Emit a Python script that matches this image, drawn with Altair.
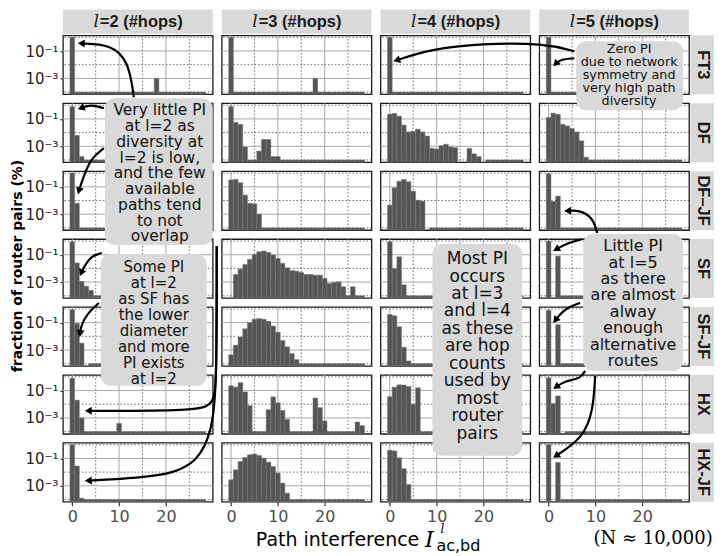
import math
import altair as alt
import pandas as pd

# ---------------------------------------------------------------- data
S = -4.0   # log10 level of the thin floor strip shown for (near-)empty bins
N = None   # bin without any bar

NETWORKS = ["FT3", "DF", "DF–JF", "SF", "SF-JF", "HX", "HX-JF"]
HOPS = [2, 3, 4, 5]
PI_BINS = list(range(29))          # path interference values 0..28

# log10(fraction of router pairs) per PI bin, one list per (network, l)
FT3_2 = [0.0] + [S] * 17 + [-3.0] + [S] * 10
FT3_3 = [0.0] + [S] * 17 + [-3.0] + [S] * 10
FT3_4 = [0.0] + [S] * 28
FT3_5 = [0.0] + [S] * 28

DF_2 = [-0.1, -2.2, -3.75] + [S] * 26
DF_3 = [-0.1, -1.25, -1.4, -3.05, S, S, -3.35, -2.5, -2.5, -3.75, -3.75] + [S] * 18
DF_4 = [-0.65, -0.6, -0.8, -1.45, -1.95, -1.9, -1.75, -1.95, -2.25, -3.15, -3.2,
        -2.95, -2.85, -3.05, -3.1, N, N, -3.15, -3.55, -3.75, N] + [S] * 8
DF_5 = [-0.9, -0.58, -0.66, -1.39, -1.51, -1.7, -1.95, -2.6, -3.8] + [S] * 20

DFJF_2 = [0.0, -2.2] + [S] * 27
DFJF_3 = [-0.5, -0.45, -0.7, -1.6, -2.2, -2.25, -3.0] + [S] * 22
DFJF_4 = [-2.34, -1.07, -0.59, -0.46, -0.63, -1.32, -1.98, -2.05, N] + [S] * 20
DFJF_5 = [-0.05, -2.07, -1.68] + [S] * 26

SF_2 = [-0.05, -1.6, -2.95, -3.3, -3.6] + [S] * 24
SF_3 = [N, -2.44, -2.05, -1.71, -1.34, -0.98, -0.78, -0.73, -0.83, -1.02, -1.27,
        -1.63, -1.95, -2.15, -2.2, -2.29, -2.44, -2.44, -2.49, -2.49, -2.73,
        -3.1, -3.02, -2.98, -3.34, S, -3.34, S, S]
SF_4 = [-0.05, -2.0, -1.15, -3.2] + [S] * 25
SF_5 = [0.0, N, -1.1] + [S] * 26

SFJF_2 = [-0.05, -1.05, -2.5, N] + [S] * 25
SFJF_3 = [-3.35, -2.65, -2.05, -1.45, -1.0, -0.75, -0.7, -0.75, -0.9, -1.25,
          -1.7, -2.3, -2.77, -3.26, -3.7] + [S] * 14
SFJF_4 = [-0.4, -0.5, -1.3, -2.8, -3.8] + [S] * 24
SFJF_5 = [-0.1, N, -1.15] + [S] * 26

HX_2 = [-0.1, -1.7, -3.0] + [S] * 7 + [-3.4] + [S] * 18
HX_3 = [-0.65, -0.75, -0.42, -1.1, -2.1, S, S, S, -2.4, -1.46, -1.9, -2.45, -3.1,
        S, S, S, S, S, -1.55, -2.25, -3.22, S, S, S, S, S, S, -3.3, -3.57]
HX_4 = [-1.45, -0.75, -0.58, -0.6, -0.7, -2.0, -0.8] + [S] * 22
HX_5 = [-0.07, -1.95, -1.39, N] + [S] * 25

HXJF_2 = [0.0, -1.55, -3.9] + [S] * 26
HXJF_3 = [-2.56, -1.83, -1.22, -0.93, -0.73, -0.68, -0.78, -0.98, -1.27, -1.59,
          -2.07, -2.8, -3.54] + [S] * 16
HXJF_4 = [-0.4, -0.45, -0.95, -1.75, -2.9] + [S] * 24
HXJF_5 = [0.0, N, -1.29] + [S] * 26

LOG_FRACTION = {
    "FT3": [FT3_2, FT3_3, FT3_4, FT3_5],
    "DF": [DF_2, DF_3, DF_4, DF_5],
    "DF–JF": [DFJF_2, DFJF_3, DFJF_4, DFJF_5],
    "SF": [SF_2, SF_3, SF_4, SF_5],
    "SF-JF": [SFJF_2, SFJF_3, SFJF_4, SFJF_5],
    "HX": [HX_2, HX_3, HX_4, HX_5],
    "HX-JF": [HXJF_2, HXJF_3, HXJF_4, HXJF_5],
}

X_TICKS = [0, 10, 20]
X_MINOR = [5, 15, 25]
Y_TICKS = [1e-1, 1e-3]
Y_MINOR = [1e0, 1e-2, 1e-4]

# annotation texts
NOTES = [
    ["Very little PI", "at l=2 as", "diversity at", "l=2 is low,", "and the few",
     "available", "paths tend", "to not", "overlap"],
    ["Some PI", "at l=2", "as SF has", "the lower", "diameter", "and more",
     "PI exists", "at l=2"],
    ["Zero PI", "due to network", "symmetry and", "very high path", "diversity"],
    ["Most PI", "occurs", "at l=3", "and l=4", "as these", "are hop", "counts",
     "used by", "most", "router", "pairs"],
    ["Little PI", "at l=5", "as there", "are almost", "alway", "enough",
     "alternative", "routes"],
]

# ---------------------------------------------------------------- layout
W, H, GAP = 150, 59, 9
X0, Y0 = 62, 34                       # page position of the first panel
LX = X0 + 3 * (W + GAP)               # page position of the last panel
LY = Y0 + 6 * (H + GAP)

YMIN = 10 ** -4.16
XS = alt.Scale(domain=[-2, 30], nice=False, zero=False)
YS = alt.Scale(type="log", domain=[YMIN, 10 ** 0.146], nice=False)

# annotation geometry in page pixels
BOX_X1 = [104, 100, 576, 432, 583]
BOX_X2 = [212, 206, 683, 522, 683]
BOX_Y1 = [97, 253, 40, 243, 233]
BOX_Y2 = [244, 385, 109, 455, 370]
NOTE_CX = [159, 153, 629, 477, 633]
NOTE_Y = [109, 266, 48, 258, 245]
NOTE_DY = [15.8, 16, 13, 17.5, 16.5]
NOTE_FS = [15.5, 15, 12.8, 17, 16]

ARROWS = [
    [(133, 96), (128, 60), (110, 43), (77, 42)],
    [(103, 107), (90, 103), (77, 108)],
    [(103, 147), (90, 157), (82, 177), (77, 193)],
    [(101, 252), (90, 255), (83, 266), (79, 275)],
    [(98, 302), (86, 313), (80, 325), (79, 336)],
    [(216, 245), (216, 380), (213, 404), (195, 410), (84, 410)],
    [(216, 245), (216, 390), (211, 430), (198, 460), (168, 476), (84, 480)],
    [(574, 50), (545, 42), (480, 42), (430, 48), (393, 60)],
    [(574, 57), (560, 58), (553, 65)],
    [(597, 232), (593, 217), (580, 209), (564, 210)],
    [(582, 238), (567, 242), (553, 250)],
    [(580, 302), (565, 307), (553, 322)],
    [(585, 370), (580, 378), (565, 380), (553, 388)],
    [(595, 375), (593, 410), (583, 437), (553, 457)],
]

BAR_FILL = "#555555"
STRIP_FILL = "#d9d9d9"


def one():
    return pd.DataFrame({"a": [0]})


def rule_style(dotted):
    if dotted:
        return dict(color="#5e5e5e", strokeWidth=0.9, strokeDash=[1.5, 2])
    return dict(color="#a8a8a8", strokeWidth=1.0)


def xrule(vals, dotted, axis):
    return alt.Chart(pd.DataFrame({"v": vals})).mark_rule(**rule_style(dotted)).encode(
        x=alt.X("v:Q", scale=XS, axis=axis))


def yrule(vals, dotted, axis):
    return alt.Chart(pd.DataFrame({"v": vals})).mark_rule(**rule_style(dotted)).encode(
        y=alt.Y("v:Q", scale=YS, axis=axis))


def PX(f):
    return alt.X(f, scale=None)


def PY(f):
    return alt.Y(f, scale=None)


def overlay_layers():
    L = []
    # anchor fixing the page extent
    L.append(alt.Chart(one()).mark_rect(opacity=0).encode(
        x=alt.value(8 - LX), x2=alt.value(714 - LX),
        y=alt.value(8 - LY), y2=alt.value(547 - LY)))
    boxes = pd.DataFrame({"x1": [v - LX for v in BOX_X1], "x2": [v - LX for v in BOX_X2],
                          "y1": [v - LY for v in BOX_Y1], "y2": [v - LY for v in BOX_Y2]})
    L.append(alt.Chart(boxes).mark_rect(color="#d9d9d9", cornerRadius=10).encode(
        x=PX("x1:Q"), x2="x2:Q", y=PY("y1:Q"), y2="y2:Q"))
    rows = []
    heads = []
    for i, pts in enumerate(ARROWS):
        (ax, ay), (tx, ty) = pts[-2], pts[-1]
        d = math.hypot(tx - ax, ty - ay)
        ux, uy = (tx - ax) / d, (ty - ay) / d
        pts2 = pts[:-1] + [(tx - 3 * ux, ty - 3 * uy)]
        for j, (x, y) in enumerate(pts2):
            rows.append({"id": i, "o": j, "x": x - LX, "y": y - LY})
        ang = math.degrees(math.atan2(ux, -uy)) % 360
        heads.append({"x": tx - 3.4 * ux - LX, "y": ty - 3.4 * uy - LY, "ang": ang})
    L.append(alt.Chart(pd.DataFrame(rows)).mark_line(
        color="black", strokeWidth=2.2, interpolate="basis").encode(
        x=PX("x:Q"), y=PY("y:Q"), detail="id:N", order="o:Q"))
    L.append(alt.Chart(pd.DataFrame(heads)).mark_point(
        shape="triangle-up", filled=True, color="black", size=64, opacity=1).encode(
        x=PX("x:Q"), y=PY("y:Q"), angle=alt.Angle("ang:Q", scale=None)))
    trows = []
    for b, lines in enumerate(NOTES):
        for j, t in enumerate(lines):
            trows.append({"t": t, "x": NOTE_CX[b] - LX,
                          "y": NOTE_Y[b] + j * NOTE_DY[b] - LY, "fs": NOTE_FS[b]})
    L.append(alt.Chart(pd.DataFrame(trows)).mark_text(
        font="DejaVu Sans", color="#111111", align="center", baseline="middle").encode(
        x=PX("x:Q"), y=PY("y:Q"), text="t:N", size=alt.Size("fs:Q", scale=None)))
    # axis titles
    L.append(alt.Chart(one()).mark_text(
        text="fraction of router pairs (%)", font="DejaVu Sans", fontWeight="bold",
        fontSize=14, angle=270, align="center", baseline="middle", color="black").encode(
        x=alt.value(17 - LX), y=alt.value(265 - LY)))
    L.append(alt.Chart(one()).mark_text(
        text="Path interference", font="DejaVu Sans", fontSize=19, align="center",
        baseline="middle", color="black").encode(x=alt.value(337 - LX), y=alt.value(539 - LY)))
    L.append(alt.Chart(one()).mark_text(
        text="I", font="DejaVu Serif", fontStyle="italic", fontSize=22, align="center",
        baseline="middle", color="black").encode(x=alt.value(429 - LX), y=alt.value(539 - LY)))
    L.append(alt.Chart(one()).mark_text(
        text="l", font="DejaVu Serif", fontStyle="italic", fontSize=12, align="left",
        baseline="middle", color="black").encode(x=alt.value(440 - LX), y=alt.value(528 - LY)))
    L.append(alt.Chart(one()).mark_text(
        text="ac,bd", font="DejaVu Sans", fontSize=16, align="left",
        baseline="middle", color="black").encode(x=alt.value(436 - LX), y=alt.value(545 - LY)))
    L.append(alt.Chart(one()).mark_text(
        text="(N ≈ 10,000)", font="DejaVu Serif", fontSize=18, align="center",
        baseline="middle", color="black").encode(x=alt.value(653 - LX), y=alt.value(538 - LY)))
    return L


def panel(r, c):
    net, l = NETWORKS[r], HOPS[c]
    vals = LOG_FRACTION[net][c]
    df = pd.DataFrame({"k": PI_BINS, "lv": vals}).dropna()
    bottom = r == len(NETWORKS) - 1
    left = c == 0
    xaxis = alt.Axis(values=X_TICKS, format="d", grid=False, domain=False, tickSize=4,
                     tickWidth=1.2, tickColor="#333333", labelFontSize=16,
                     labelColor="#4d4d4d", labelPadding=3, title=None,
                     labelFont="DejaVu Sans") if bottom else None
    yaxis = alt.Axis(values=Y_TICKS,
                     labelExpr="datum.value > 0.01 ? '10⁻¹' : '10⁻³'",
                     grid=False, domain=False, tickSize=3, tickWidth=1.2,
                     tickColor="#333333", labelFontSize=15, labelColor="#222222",
                     labelPadding=2, title=None, labelFont="DejaVu Sans") if left else None
    bars = alt.Chart(df).transform_calculate(
        v="pow(10, datum.lv)", k0="datum.k - 0.5", k1="datum.k + 0.5"
    ).mark_bar(fill=BAR_FILL, stroke="#767676", strokeWidth=0.5).encode(
        x=alt.X("k0:Q", scale=XS, axis=xaxis), x2="k1:Q",
        y=alt.Y("v:Q", scale=YS, axis=yaxis), y2=alt.datum(YMIN))
    layers = [xrule(X_TICKS, False, xaxis), xrule(X_MINOR, True, xaxis),
              yrule(Y_TICKS, False, yaxis), yrule(Y_MINOR, True, yaxis), bars]
    if r == 0:
        layers.append(alt.Chart(one()).mark_rect(color=STRIP_FILL).encode(
            x=alt.value(0), x2=alt.value(W), y=alt.value(-26), y2=alt.value(-1.5)))
        layers.append(alt.Chart(one()).mark_text(
            text="l", font="DejaVu Serif", fontStyle="italic", fontSize=17,
            align="right", baseline="middle", color="#1a1a1a").encode(
            x=alt.value(36), y=alt.value(-13.5)))
        layers.append(alt.Chart(one()).mark_text(
            text=f"={l} (#hops)", font="Liberation Sans", fontWeight="bold",
            fontSize=16.5, align="left", baseline="middle", color="#1a1a1a").encode(
            x=alt.value(37), y=alt.value(-13.5)))
    if c == len(HOPS) - 1:
        layers.append(alt.Chart(one()).mark_rect(color=STRIP_FILL).encode(
            x=alt.value(W + 1.5), x2=alt.value(W + 25), y=alt.value(0), y2=alt.value(H)))
        layers.append(alt.Chart(one()).mark_text(
            text=net, font="Liberation Sans", fontWeight="bold", fontSize=16.5,
            angle=90, align="center", baseline="middle", color="#1a1a1a").encode(
            x=alt.value(W + 13.5), y=alt.value(H / 2)))
    if bottom and c == len(HOPS) - 1:
        layers += overlay_layers()
    return alt.layer(*layers).properties(width=W, height=H)


panels = [panel(r, c) for r in range(len(NETWORKS)) for c in range(len(HOPS))]

chart = alt.concat(*panels, columns=4, spacing=GAP, bounds="flush").properties(
    padding=0, background="white"
).configure_view(stroke="#1a1a1a", strokeWidth=1.3)

chart.save("out.html", embed_options={"renderer": "svg", "actions": False})
